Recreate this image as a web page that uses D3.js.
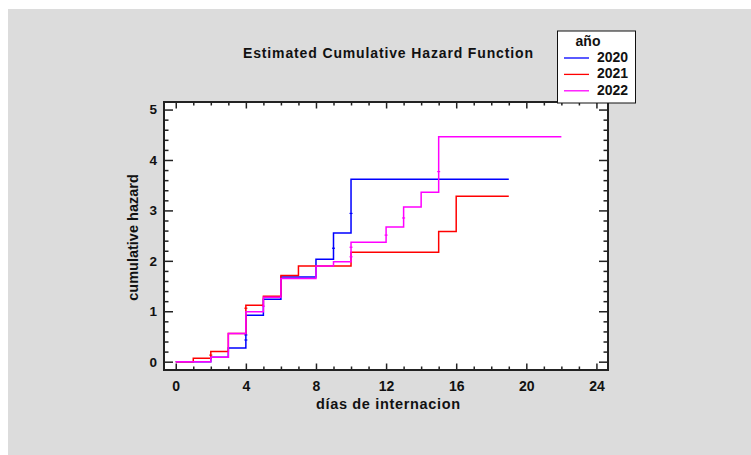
<!DOCTYPE html>
<html>
<head>
<meta charset="utf-8">
<script src="https://cdn.jsdelivr.net/npm/d3@7"></script>
<style>
  html, body { margin: 0; padding: 0; background: #ffffff; }
  svg { display: block; }
  text { font-family: "Liberation Sans", Arial, sans-serif; font-weight: bold; fill: #111; }
</style>
</head>
<body>
<svg id="chart" width="751" height="455"></svg>
<script>
// Estimated cumulative hazard by year (step functions)
const years = ["2020", "2021", "2022"];
const colors = ["#0000ff", "#ff0000", "#ff00ff"];

const times2020 = [0, 2, 3, 4, 5, 6, 8, 9, 10, 19];
const hazard2020 = [0, 0.09, 0.27, 0.92, 1.24, 1.68, 2.03, 2.55, 3.62, 3.62];

const times2021 = [0, 1, 2, 3, 4, 5, 6, 7, 10, 15, 16, 19];
const hazard2021 = [0, 0.07, 0.20, 0.56, 1.12, 1.30, 1.71, 1.90, 2.17, 2.58, 3.28, 3.28];

const times2022 = [0, 2, 3, 4, 5, 6, 8, 9, 10, 12, 13, 14, 15, 22];
const hazard2022 = [0, 0.09, 0.56, 0.99, 1.28, 1.65, 1.90, 1.98, 2.37, 2.67, 3.07, 3.36, 4.46, 4.46];

// censored observations drawn as small dashes on the curve
const censTimes2020 = [4, 4, 9, 10];
const censHazard2020 = [0.43, 0.53, 2.25, 2.94];
const censTimes2021 = [2, 4];
const censHazard2021 = [0.13, 1.06];
const censTimes2022 = [5, 10, 10, 12, 13, 15];
const censHazard2022 = [1.10, 2.08, 2.27, 2.51, 2.85, 3.77];

const xTicks = [0, 4, 8, 12, 16, 20, 24];
const yTicks = [0, 1, 2, 3, 4, 5];

const title = "Estimated Cumulative Hazard Function";
const xTitle = "días de internacion";
const yTitle = "cumulative hazard";
const legendTitle = "año";

const series = [
  { name: years[0], t: times2020, h: hazard2020, ct: censTimes2020, ch: censHazard2020, color: colors[0] },
  { name: years[1], t: times2021, h: hazard2021, ct: censTimes2021, ch: censHazard2021, color: colors[1] },
  { name: years[2], t: times2022, h: hazard2022, ct: censTimes2022, ch: censHazard2022, color: colors[2] }
];

const svg = d3.select("#chart");

// panel background
svg.append("rect").attr("x", 8).attr("y", 9).attr("width", 743).attr("height", 446).attr("fill", "#dcdcdc");

const frame = { left: 164, right: 608, top: 102, bottom: 370 };

const x = d3.scaleLinear().domain([-0.67, 24.66]).range([frame.left, frame.right]);
const y = d3.scaleLinear().domain([-0.165, 5.15]).range([frame.bottom, frame.top]);

// plotting area
svg.append("rect")
  .attr("x", frame.left).attr("y", frame.top)
  .attr("width", frame.right - frame.left).attr("height", frame.bottom - frame.top)
  .attr("fill", "#ffffff");

const xMinor = d3.range(0, 25).filter(v => v % 4 !== 0);
const yMinor = d3.range(0, 26).map(v => v / 5).filter(v => v % 1 !== 0 && v <= 5.1);

function styleAxis(g) {
  g.select(".domain").remove();
  g.selectAll(".tick line").attr("stroke", "#222").attr("stroke-width", 1.5);
}

// bottom axis with labels, ticks pointing into the plot
svg.append("g").attr("transform", `translate(0,${frame.bottom})`)
  .call(d3.axisBottom(x).tickValues(xTicks).tickSize(-6.5).tickPadding(11).tickFormat(d3.format("d")))
  .call(styleAxis)
  .call(g => g.selectAll("text").attr("font-size", 14).attr("fill", "#111").attr("font-family", null));
svg.append("g").attr("transform", `translate(0,${frame.bottom})`)
  .call(d3.axisBottom(x).tickValues(xMinor).tickSize(-3.5).tickFormat(""))
  .call(styleAxis);
// top ticks
svg.append("g").attr("transform", `translate(0,${frame.top})`)
  .call(d3.axisTop(x).tickValues(xTicks).tickSize(-6.5).tickFormat(""))
  .call(styleAxis);
svg.append("g").attr("transform", `translate(0,${frame.top})`)
  .call(d3.axisTop(x).tickValues(xMinor).tickSize(-3.5).tickFormat(""))
  .call(styleAxis);

// left axis with labels
svg.append("g").attr("transform", `translate(${frame.left},0)`)
  .call(d3.axisLeft(y).tickValues(yTicks).tickSize(-9).tickPadding(7).tickFormat(d3.format("d")))
  .call(styleAxis)
  .call(g => g.selectAll("text").attr("font-size", 13.5).attr("fill", "#111").attr("font-family", null));
svg.append("g").attr("transform", `translate(${frame.left},0)`)
  .call(d3.axisLeft(y).tickValues(yMinor).tickSize(-4.5).tickFormat(""))
  .call(styleAxis);
// right ticks
svg.append("g").attr("transform", `translate(${frame.right},0)`)
  .call(d3.axisRight(y).tickValues(yTicks).tickSize(-9).tickFormat(""))
  .call(styleAxis);
svg.append("g").attr("transform", `translate(${frame.right},0)`)
  .call(d3.axisRight(y).tickValues(yMinor).tickSize(-4.5).tickFormat(""))
  .call(styleAxis);

// step curves
const line = d3.line().curve(d3.curveStepAfter).x(d => x(d[0])).y(d => y(d[1]));
const plot = svg.append("g");
series.forEach(s => {
  const pts = s.t.map((t, i) => [t, s.h[i]]);
  plot.append("path").datum(pts)
    .attr("fill", "none").attr("stroke", s.color).attr("stroke-width", 1.5)
    .attr("d", line);
  plot.selectAll(null).data(s.ct.map((t, i) => [t, s.ch[i]])).enter()
    .append("line")
    .attr("x1", d => x(d[0]) - 1.5).attr("x2", d => x(d[0]) + 1.5)
    .attr("y1", d => y(d[1])).attr("y2", d => y(d[1]))
    .attr("stroke", s.color).attr("stroke-width", 1.2);
});

// frame
svg.append("rect")
  .attr("x", frame.left).attr("y", frame.top)
  .attr("width", frame.right - frame.left).attr("height", frame.bottom - frame.top)
  .attr("fill", "none").attr("stroke", "#222").attr("stroke-width", 2);

// titles
svg.append("text").attr("x", 388).attr("y", 58).attr("text-anchor", "middle")
  .attr("font-size", 14).attr("textLength", 290).attr("lengthAdjust", "spacing").text(title);
svg.append("text").attr("x", 388).attr("y", 409).attr("text-anchor", "middle")
  .attr("font-size", 14.5).attr("textLength", 144).attr("lengthAdjust", "spacing").text(xTitle);
svg.append("text").attr("transform", "translate(138,237.5) rotate(-90)").attr("text-anchor", "middle")
  .attr("font-size", 14.5).text(yTitle);

// legend
const lg = svg.append("g");
lg.append("rect").attr("x", 557.5).attr("y", 31).attr("width", 78).attr("height", 72)
  .attr("fill", "#ffffff").attr("stroke", "#111").attr("stroke-width", 1);
lg.append("text").attr("x", 588).attr("y", 46).attr("text-anchor", "middle").attr("font-size", 14).text(legendTitle);
series.forEach((s, i) => {
  const cy = 58 + i * 16.4;
  lg.append("line").attr("x1", 564).attr("x2", 589).attr("y1", cy).attr("y2", cy)
    .attr("stroke", s.color).attr("stroke-width", 1.3);
  lg.append("text").attr("x", 597).attr("y", cy + 3.7).attr("font-size", 14).text(s.name);
});
</script>
</body>
</html>
